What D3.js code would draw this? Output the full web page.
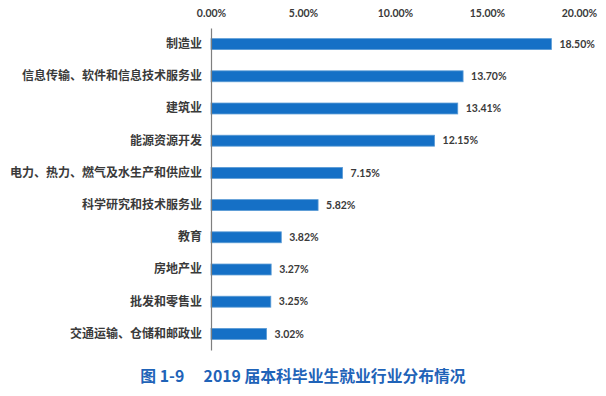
<!DOCTYPE html>
<html>
<head>
<meta charset="utf-8">
<script src="https://cdn.jsdelivr.net/npm/d3@7"></script>
<style>
  body { margin: 0; background: #fff; }
  .cat { font-family: "Noto Sans CJK SC", sans-serif; font-weight: bold; font-size: 12px; fill: #3a3a3a; }
  .num { font-family: Lato, "Noto Sans", sans-serif; font-weight: bold; font-size: 10.5px; fill: #3a3a3a; }
  .title { font-family: "Noto Sans CJK SC", sans-serif; font-weight: bold; font-size: 15.8px; fill: #1f63b8; }
</style>
</head>
<body>
<svg id="chart" width="606" height="396"></svg>
<script>
// industries, top to bottom
var industries = ['制造业', '信息传输、软件和信息技术服务业', '建筑业', '能源资源开发',
  '电力、热力、燃气及水生产和供应业', '科学研究和技术服务业', '教育', '房地产业',
  '批发和零售业', '交通运输、仓储和邮政业'];
var shares = [18.50, 13.70, 13.41, 12.15, 7.15, 5.82, 3.82, 3.27, 3.25, 3.02];
var ticks = [0, 5, 10, 15, 20];
var caption = '图 1-9\u2003 2019 届本科毕业生就业行业分布情况';

var svg = d3.select('#chart');
var plotLeft = 211, plotRight = 579, plotTop = 28, plotBottom = 350;

var x = d3.scaleLinear().domain([0, 20]).range([plotLeft, plotRight]);
var y = d3.scaleBand().domain(industries).range([plotTop, plotBottom]).paddingInner(0.66).paddingOuter(0.33);

// top axis labels
var xAxis = d3.axisTop(x).tickValues(ticks).tickSize(0)
  .tickFormat(function(d) { return d.toFixed(2) + '%'; });
var gx = svg.append('g').attr('transform', 'translate(0,17)').call(xAxis);
gx.select('.domain').remove();
gx.selectAll('text').attr('class', 'num').attr('dy', 0).attr('y', 0);

// bars
svg.selectAll('rect.bar')
  .data(shares)
  .enter().append('rect')
  .attr('class', 'bar')
  .attr('x', x(0))
  .attr('y', function(d, i) { return y(industries[i]); })
  .attr('width', function(d) { return x(d) - x(0); })
  .attr('height', y.bandwidth())
  .attr('fill', '#1570c6')
  .attr('stroke', '#5b9bd5')
  .attr('stroke-width', 0.8);

// value labels
svg.selectAll('text.val')
  .data(shares)
  .enter().append('text')
  .attr('class', 'num')
  .attr('x', function(d) { return x(d) + 8; })
  .attr('y', function(d, i) { return y(industries[i]) + y.bandwidth() / 2; })
  .attr('dy', '0.35em')
  .text(function(d) { return d.toFixed(2) + '%'; });

// category axis
var yAxis = d3.axisLeft(y).tickSize(0).tickPadding(9);
var gy = svg.append('g').attr('transform', 'translate(' + plotLeft + ',0)').call(yAxis);
gy.select('.domain').attr('stroke', '#7f7f7f').attr('stroke-width', 1.2);
gy.selectAll('text').attr('class', 'cat');

svg.append('text')
  .attr('class', 'title')
  .attr('x', 303)
  .attr('y', 382)
  .attr('text-anchor', 'middle')
  .text(caption);
</script>
</body>
</html>
